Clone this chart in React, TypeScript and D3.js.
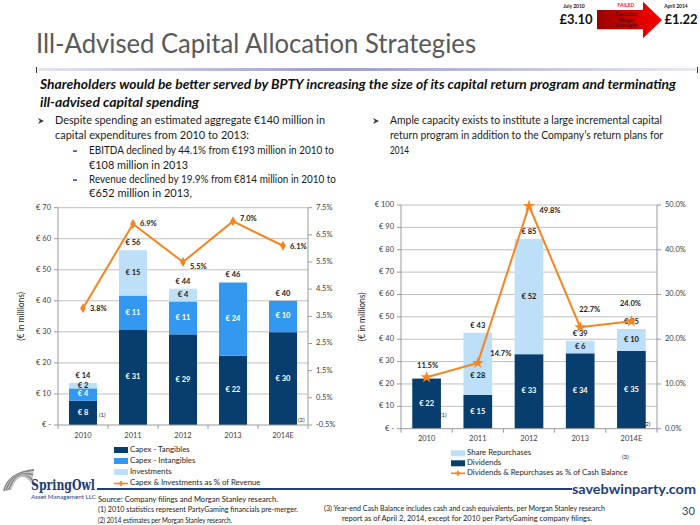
import React, { useEffect } from "react";
import * as d3 from "d3";

const FONT = "Lato, 'Open Sans', 'DejaVu Sans', sans-serif";

// ---------------- data ----------------
const years = ["2010", "2011", "2012", "2013", "2014E"];
const capexTangibles = [7.8, 30.6, 29.2, 22.3, 29.9];
const capexIntangibles = [4.0, 11.1, 10.6, 23.6, 10.1];
const investments = [1.75, 14.6, 4.1, 0, 0];
const capexPctOfRevenue = [3.8, 6.9, 5.5, 7.0, 6.1];
const dividends = [22.4, 15.1, 33.3, 33.7, 34.8];
const shareRepurchases = [0, 27.8, 51.5, 5.6, 9.8];
const returnPctOfCash = [11.5, 14.7, 49.8, 22.7, 24.0];
const leftEuroTicks = [0, 10, 20, 30, 40, 50, 60, 70];
const leftPctTicks = [-0.5, 0.5, 1.5, 2.5, 3.5, 4.5, 5.5, 6.5, 7.5];
const rightEuroTicks = [0, 10, 20, 30, 40, 50, 60, 70, 80, 90, 100];
const rightPctTicks = [0, 10, 20, 30, 40, 50];

// ---------------- text ----------------
const titleText = "Ill-Advised Capital Allocation Strategies";
const subtitleLines = [
  "Shareholders would be better served by BPTY increasing the size of its capital return program and terminating",
  "ill-advised capital spending",
];
const leftBullet = ["Despite spending an estimated aggregate €140 million in", "capital expenditures from 2010 to 2013:"];
const subBullet1 = ["EBITDA declined by 44.1% from €193 million in 2010 to", "€108 million in 2013"];
const subBullet2 = ["Revenue declined by 19.9% from €814 million in 2010 to", "€652 million in 2013,"];
const rightBullet = [
  "Ample capacity exists to institute a large incremental capital",
  "return program in addition to the Company’s return plans for",
  "2014",
];
const footnotesLeft = [
  "Source: Company filings and Morgan Stanley research.",
  "(1)  2010 statistics represent PartyGaming financials pre-merger.",
  "(2)  2014 estimates per Morgan Stanley research.",
];
const footnotesRight = [
  "(3)  Year-end Cash Balance includes cash and cash equivalents, per Morgan Stanley research",
  "report as of April 2, 2014, except for 2010 per PartyGaming company filings.",
];

const NAVY = "#073E6D";
const MID = "#3399F0";
const LIGHT = "#BDDFF7";
const ORANGE = "#F7841E";
const GRID = "#BFBFBF";
const AXIS = "#9A9A9A";
const BRAND = "#1F3E7C";

const euroFmt = (v: number) => (v === 0 ? "€ -" : `€ ${v}`);
const pctFmt = (v: number) => `${v.toFixed(1)}%`;

function T(props: any) {
  const { children, ...rest } = props;
  return (
    <text fontFamily={FONT} {...rest}>
      {children}
    </text>
  );
}

type Series = { name: string; values: number[]; color: string; labelColor: string };

type ChartProps = {
  x0: number;
  x1: number;
  yTop: number;
  yBottom: number;
  euroTicks: number[];
  pctTicks: number[];
  series: Series[];
  pct: number[];
  pctLabel: { dx: number; dy: number; anchor: string }[];
  marker: "diamond" | "star";
  axisTitleX: number;
  notes: { i: number; text: string; dx: number; y: number }[];
  legend: { x: number; ys: number[]; items: { name: string; kind: "rect" | "line"; color: string }[] };
  xLabelY: number;
  segShift?: Record<string, number>;
};

function StackChart(p: ChartProps) {
  const x = d3.scaleBand<string>().domain(years).range([p.x0, p.x1]).paddingInner(0.44).paddingOuter(0.22);
  const euroMax = p.euroTicks[p.euroTicks.length - 1];
  const y = d3.scaleLinear().domain([p.euroTicks[0], euroMax]).range([p.yBottom, p.yTop]);
  const y2 = d3
    .scaleLinear()
    .domain([p.pctTicks[0], p.pctTicks[p.pctTicks.length - 1]])
    .range([p.yBottom, p.yTop]);

  const rows = years.map((yr, i) => {
    const r: any = { year: yr };
    p.series.forEach((s) => (r[s.name] = s.values[i]));
    return r;
  });
  const stacked = d3.stack<any>().keys(p.series.map((s) => s.name))(rows);
  const totals = years.map((_, i) => d3.sum(p.series, (s) => s.values[i]));
  const nonzero = years.map((_, i) => p.series.filter((s) => s.values[i] > 0).length);

  const line = d3
    .line<number>()
    .x((_, i) => (x(years[i]) as number) + x.bandwidth() / 2)
    .y((d) => y2(d));
  const sym = d3
    .symbol()
    .type(p.marker === "diamond" ? d3.symbolDiamond : d3.symbolStar)
    .size(p.marker === "diamond" ? 28 : 45)();
  const bw = x.bandwidth();
  const step = x.step();
  const boundaries = d3.range(years.length + 1).map((k) => p.x0 + k * step);
  const shift = p.segShift || {};

  return (
    <g>
      {p.euroTicks.slice(1).map((t) => (
        <line key={"g" + t} x1={p.x0} x2={p.x1} y1={y(t)} y2={y(t)} stroke={GRID} strokeWidth={1} />
      ))}
      <line x1={p.x0} x2={p.x0} y1={p.yTop} y2={p.yBottom} stroke={AXIS} />
      <line x1={p.x1} x2={p.x1} y1={p.yTop} y2={p.yBottom} stroke={AXIS} />
      {p.euroTicks.map((t) => (
        <g key={"lt" + t}>
          <line x1={p.x0 - 4} x2={p.x0} y1={y(t)} y2={y(t)} stroke={AXIS} />
          <T x={p.x0 - 7} y={y(t)} fontSize={7.5} fill="#404040" textAnchor="end" dominantBaseline="middle">
            {euroFmt(t)}
          </T>
        </g>
      ))}
      {p.pctTicks.map((t) => (
        <g key={"rt" + t}>
          <line x1={p.x1} x2={p.x1 + 4} y1={y2(t)} y2={y2(t)} stroke={AXIS} />
          <T x={p.x1 + 8} y={y2(t)} fontSize={7.5} fill="#404040" dominantBaseline="middle">
            {pctFmt(t)}
          </T>
        </g>
      ))}
      <T
        transform={`translate(${p.axisTitleX},${(p.yTop + p.yBottom) / 2}) rotate(-90)`}
        fontSize={8.5}
        fill="#262626"
        textAnchor="middle"
        dominantBaseline="middle"
      >
        (€ in millions)
      </T>
      {stacked.map((layer, si) => (
        <g key={"s" + si}>
          {layer.map((d, i) =>
            d[1] - d[0] > 0 ? (
              <rect
                key={i}
                x={x(years[i])}
                y={y(d[1])}
                width={bw}
                height={y(d[0]) - y(d[1])}
                fill={p.series[si].color}
              />
            ) : null
          )}
        </g>
      ))}
      <line x1={p.x0} x2={p.x1} y1={p.yBottom} y2={p.yBottom} stroke={AXIS} />
      {boundaries.map((bx, k) => (
        <line key={"xt" + k} x1={bx} x2={bx} y1={p.yBottom} y2={p.yBottom + 4} stroke={AXIS} />
      ))}
      {years.map((yr) => (
        <T
          key={"xl" + yr}
          x={(x(yr) as number) + bw / 2}
          y={p.xLabelY}
          fontSize={7.5}
          fill="#404040"
          textAnchor="middle"
          dominantBaseline="middle"
        >
          {yr}
        </T>
      ))}
      {stacked.map((layer, si) =>
        layer.map((d, i) =>
          d[1] - d[0] > 0 ? (
            <T
              key={"sl" + si + "-" + i}
              x={(x(years[i]) as number) + bw / 2}
              y={y((d[0] + d[1]) / 2) + (shift[si + "-" + i] || 0)}
              fontSize={7.5}
              fontWeight={700}
              fill={p.series[si].labelColor}
              textAnchor="middle"
              dominantBaseline="middle"
            >
              {euroFmt(Math.round(d[1] - d[0]))}
            </T>
          ) : null
        )
      )}
      {totals.map((t, i) =>
        nonzero[i] >= 2 ? (
          <T
            key={"tot" + i}
            x={(x(years[i]) as number) + bw / 2}
            y={y(t) - 7}
            fontSize={7.5}
            fontWeight={700}
            fill="#1a1a1a"
            textAnchor="middle"
            dominantBaseline="middle"
          >
            {euroFmt(Math.round(t))}
          </T>
        ) : null
      )}
      <path d={line(p.pct) || ""} fill="none" stroke={ORANGE} strokeWidth={2} />
      {p.pct.map((v, i) => (
        <path
          key={"m" + i}
          d={sym || ""}
          transform={`translate(${(x(years[i]) as number) + bw / 2},${y2(v)})`}
          fill={ORANGE}
        />
      ))}
      {p.pct.map((v, i) => (
        <T
          key={"pl" + i}
          x={(x(years[i]) as number) + bw / 2 + p.pctLabel[i].dx}
          y={y2(v) + p.pctLabel[i].dy}
          fontSize={7.5}
          fontWeight={700}
          fill="#1a1a1a"
          textAnchor={p.pctLabel[i].anchor}
          dominantBaseline="middle"
        >
          {pctFmt(v)}
        </T>
      ))}
      {p.notes.map((n, k) => (
        <T key={"n" + k} x={(x(years[n.i]) as number) + bw + n.dx} y={n.y} fontSize={6} fill="#262626" dominantBaseline="middle">
          {n.text}
        </T>
      ))}
      {p.legend.items.map((it, k) => (
        <g key={"lg" + k}>
          {it.kind === "rect" ? (
            <rect x={p.legend.x} y={p.legend.ys[k] - 3} width={14} height={6} fill={it.color} />
          ) : (
            <g>
              <line x1={p.legend.x} x2={p.legend.x + 14} y1={p.legend.ys[k]} y2={p.legend.ys[k]} stroke={ORANGE} strokeWidth={1.6} />
              <path d={d3.symbol().type(d3.symbolCross).size(14)() || ""} transform={`translate(${p.legend.x + 7},${p.legend.ys[k]})`} fill={ORANGE} />
            </g>
          )}
          <T x={p.legend.x + 16} y={p.legend.ys[k]} fontSize={7.8} fill="#262626" dominantBaseline="middle">
            {it.name}
          </T>
        </g>
      ))}
    </g>
  );
}

function Logo() {
  const arcs = [0, 1, 2, 3, 4, 5];
  return (
    <g>
      {arcs.map((k) => (
        <path
          key={k}
          d={`M${4 + k * 1.3},${491 - k * 0.3} Q${8 + k * 2.2},${473 - k * 1.2} ${34 - k * 0.4},${470 + k * 2.4}`}
          fill="none"
          stroke={k % 2 === 0 ? "#7F7F7F" : "#C4C4C4"}
          strokeWidth={2}
        />
      ))}
      <text x={31} y={489.5} fontFamily="'DejaVu Serif', 'Liberation Serif', serif" fontWeight={700} fontSize={15} fill={BRAND} textLength={64} lengthAdjust="spacingAndGlyphs">
        SpringOwl
      </text>
      <T x={31} y={497.5} fontSize={5.8} fill={BRAND} textLength={65} lengthAdjust="spacingAndGlyphs" dominantBaseline="middle">
        Asset Management LLC
      </T>
    </g>
  );
}

function TopGraphic() {
  return (
    <g>
      <defs>
        <linearGradient id="arrowGrad" x1="0" x2="1" y1="0" y2="0">
          <stop offset="0" stopColor="#9A0000" />
          <stop offset="1" stopColor="#FF0000" />
        </linearGradient>
      </defs>
      <T x={574} y={7} fontSize={5} fontWeight={700} fill="#1a1a1a" textAnchor="middle" dominantBaseline="middle">
        July 2010
      </T>
      <T x={576} y={21} fontSize={13} fontWeight={700} fill="#111" textAnchor="middle" dominantBaseline="middle">
        £3.10
      </T>
      <path d="M597,10 L643,10 L643,1.7 L662,20 L643,38.3 L643,29.3 L597,29.3 Z" fill="url(#arrowGrad)" />
      <T x={626} y={6} fontSize={5} fontWeight={700} fill="#FF1010" textAnchor="middle" dominantBaseline="middle">
        FAILED
      </T>
      {["Execution", "Merger", "Oversight"].map((s, k) => (
        <T key={s} x={626} y={15 + k * 5.5} fontSize={5} fill="#1a1a1a" textAnchor="middle" dominantBaseline="middle">
          {s}
        </T>
      ))}
      <T x={676} y={7} fontSize={5} fontWeight={700} fill="#1a1a1a" textAnchor="middle" dominantBaseline="middle">
        April 2014
      </T>
      <T x={681} y={21} fontSize={13} fontWeight={700} fill="#111" textAnchor="middle" dominantBaseline="middle">
        £1.22
      </T>
    </g>
  );
}

function Bullet({ x, y }: { x: number; y: number }) {
  return <path d={`M${x},${y - 3} L${x + 6},${y} L${x},${y + 3} L${x + 1.8},${y} Z`} fill="#3a3a3a" />;
}

export default function App() {
  useEffect(() => {
    document.body.style.margin = "0";
  }, []);

  const bodyLine = (text: string, x: number, y: number, w: number) => (
    <T x={x} y={y} fontSize={11.5} fill="#1a1a1a" dominantBaseline="middle" textLength={w} lengthAdjust="spacingAndGlyphs">
      {text}
    </T>
  );

  return (
    <svg width={700} height={525} style={{ position: "absolute", left: 0, top: 0, background: "#fff" }}>
      <defs>
        <linearGradient id="barGrad" x1="0" x2="1" y1="0" y2="0">
          <stop offset="0" stopColor="#E4E4F2" />
          <stop offset="0.45" stopColor="#9C9CCF" />
          <stop offset="1" stopColor="#E8E8F4" />
        </linearGradient>
      </defs>
      <rect x={0} y={0} width={700} height={525} fill="#fff" />
      <TopGraphic />
      <T x={36} y={46} fontSize={26} fill="#595959" dominantBaseline="middle" textLength={440} lengthAdjust="spacingAndGlyphs">
        {titleText}
      </T>
      <rect x={38} y={68} width={658} height={3} fill="url(#barGrad)" />
      <line x1={36.5} x2={36.5} y1={67} y2={73} stroke="#333" />
      <line x1={697.5} x2={697.5} y1={67} y2={73} stroke="#333" />

      <T x={40} y={86} fontSize={13} fontWeight={700} fontStyle="italic" fill="#111" dominantBaseline="middle" textLength={636} lengthAdjust="spacingAndGlyphs">
        {subtitleLines[0]}
      </T>
      <T x={40} y={104} fontSize={13} fontWeight={700} fontStyle="italic" fill="#111" dominantBaseline="middle" textLength={159} lengthAdjust="spacingAndGlyphs">
        {subtitleLines[1]}
      </T>

      <Bullet x={38} y={121} />
      {bodyLine(leftBullet[0], 55, 121, 270)}
      {bodyLine(leftBullet[1], 55, 136, 194)}
      <rect x={73} y={150.3} width={4} height={1.6} fill="#2F5597" />
      {bodyLine(subBullet1[0], 89, 151, 245)}
      {bodyLine(subBullet1[1], 89, 166, 99)}
      <rect x={73} y={179.3} width={4} height={1.6} fill="#2F5597" />
      {bodyLine(subBullet2[0], 89, 180, 247)}
      {bodyLine(subBullet2[1], 89, 194, 103)}

      <Bullet x={373} y={121} />
      {bodyLine(rightBullet[0], 390, 121, 272)}
      {bodyLine(rightBullet[1], 390, 136, 273)}
      {bodyLine(rightBullet[2], 390, 151, 19)}

      <StackChart
        x0={58}
        x1={308}
        yTop={207.7}
        yBottom={425}
        euroTicks={leftEuroTicks}
        pctTicks={leftPctTicks}
        series={[
          { name: "Capex - Tangibles", values: capexTangibles, color: NAVY, labelColor: "#fff" },
          { name: "Capex - Intangibles", values: capexIntangibles, color: MID, labelColor: "#fff" },
          { name: "Investments", values: investments, color: LIGHT, labelColor: "#1a1a1a" },
        ]}
        pct={capexPctOfRevenue}
        pctLabel={[
          { dx: 7, dy: 1, anchor: "start" },
          { dx: 7, dy: 0, anchor: "start" },
          { dx: 7, dy: 5, anchor: "start" },
          { dx: 7, dy: -2, anchor: "start" },
          { dx: 7, dy: 1, anchor: "start" },
        ]}
        marker="diamond"
        axisTitleX={22}
        notes={[
          { i: 0, text: "(1)", dx: 2, y: 415 },
          { i: 4, text: "(2)", dx: 1, y: 420 },
        ]}
        legend={{
          x: 114,
          ys: [450, 461, 472, 483.5],
          items: [
            { name: "Capex - Tangibles", kind: "rect", color: NAVY },
            { name: "Capex - Intangibles", kind: "rect", color: MID },
            { name: "Investments", kind: "rect", color: LIGHT },
            { name: "Capex & Investments as % of Revenue", kind: "line", color: ORANGE },
          ],
        }}
        xLabelY={436}
      />

      <StackChart
        x0={401}
        x1={657}
        yTop={205}
        yBottom={428.7}
        euroTicks={rightEuroTicks}
        pctTicks={rightPctTicks}
        series={[
          { name: "Dividends", values: dividends, color: NAVY, labelColor: "#fff" },
          { name: "Share Repurchases", values: shareRepurchases, color: LIGHT, labelColor: "#1a1a1a" },
        ]}
        pct={returnPctOfCash}
        pctLabel={[
          { dx: 1, dy: -11, anchor: "middle" },
          { dx: 23, dy: -8.5, anchor: "middle" },
          { dx: 21, dy: 5.5, anchor: "middle" },
          { dx: 9.5, dy: -17, anchor: "middle" },
          { dx: -1, dy: -17.5, anchor: "middle" },
        ]}
        marker="star"
        axisTitleX={363}
        notes={[
          { i: 0, text: "(1)", dx: -1, y: 415 },
          { i: 4, text: "(2)", dx: -2, y: 424 },
        ]}
        legend={{
          x: 451,
          ys: [453.3, 463.3, 473.3],
          items: [
            { name: "Share Repurchases", kind: "rect", color: LIGHT },
            { name: "Dividends", kind: "rect", color: NAVY },
            { name: "Dividends & Repurchases as % of Cash Balance", kind: "line", color: ORANGE },
          ],
        }}
        xLabelY={439}
        segShift={{ "1-1": 12 }}
      />
      <T x={622} y={457} fontSize={6} fill="#262626" dominantBaseline="middle">
        (3)
      </T>

      <Logo />
      <line x1={97} x2={572} y1={489} y2={489} stroke={BRAND} strokeWidth={2} />
      <T x={572} y={490} fontSize={14} fontWeight={700} fill={BRAND} dominantBaseline="middle" textLength={124} lengthAdjust="spacingAndGlyphs">
        savebwinparty.com
      </T>

      <T x={98} y={500} fontSize={7.5} fill="#1a1a1a" dominantBaseline="middle" textLength={180} lengthAdjust="spacingAndGlyphs">
        {footnotesLeft[0]}
      </T>
      <T x={98} y={510.5} fontSize={7.5} fill="#1a1a1a" dominantBaseline="middle" textLength={200} lengthAdjust="spacingAndGlyphs">
        {footnotesLeft[1]}
      </T>
      <T x={98} y={521} fontSize={7.5} fill="#1a1a1a" dominantBaseline="middle" textLength={134} lengthAdjust="spacingAndGlyphs">
        {footnotesLeft[2]}
      </T>
      <T x={324} y={509.5} fontSize={7.5} fill="#1a1a1a" dominantBaseline="middle" textLength={281} lengthAdjust="spacingAndGlyphs">
        {footnotesRight[0]}
      </T>
      <T x={342} y={519.5} fontSize={7.5} fill="#1a1a1a" dominantBaseline="middle" textLength={250} lengthAdjust="spacingAndGlyphs">
        {footnotesRight[1]}
      </T>
      <T x={682} y={512} fontSize={11} fill={BRAND} dominantBaseline="middle">
        30
      </T>
    </svg>
  );
}
